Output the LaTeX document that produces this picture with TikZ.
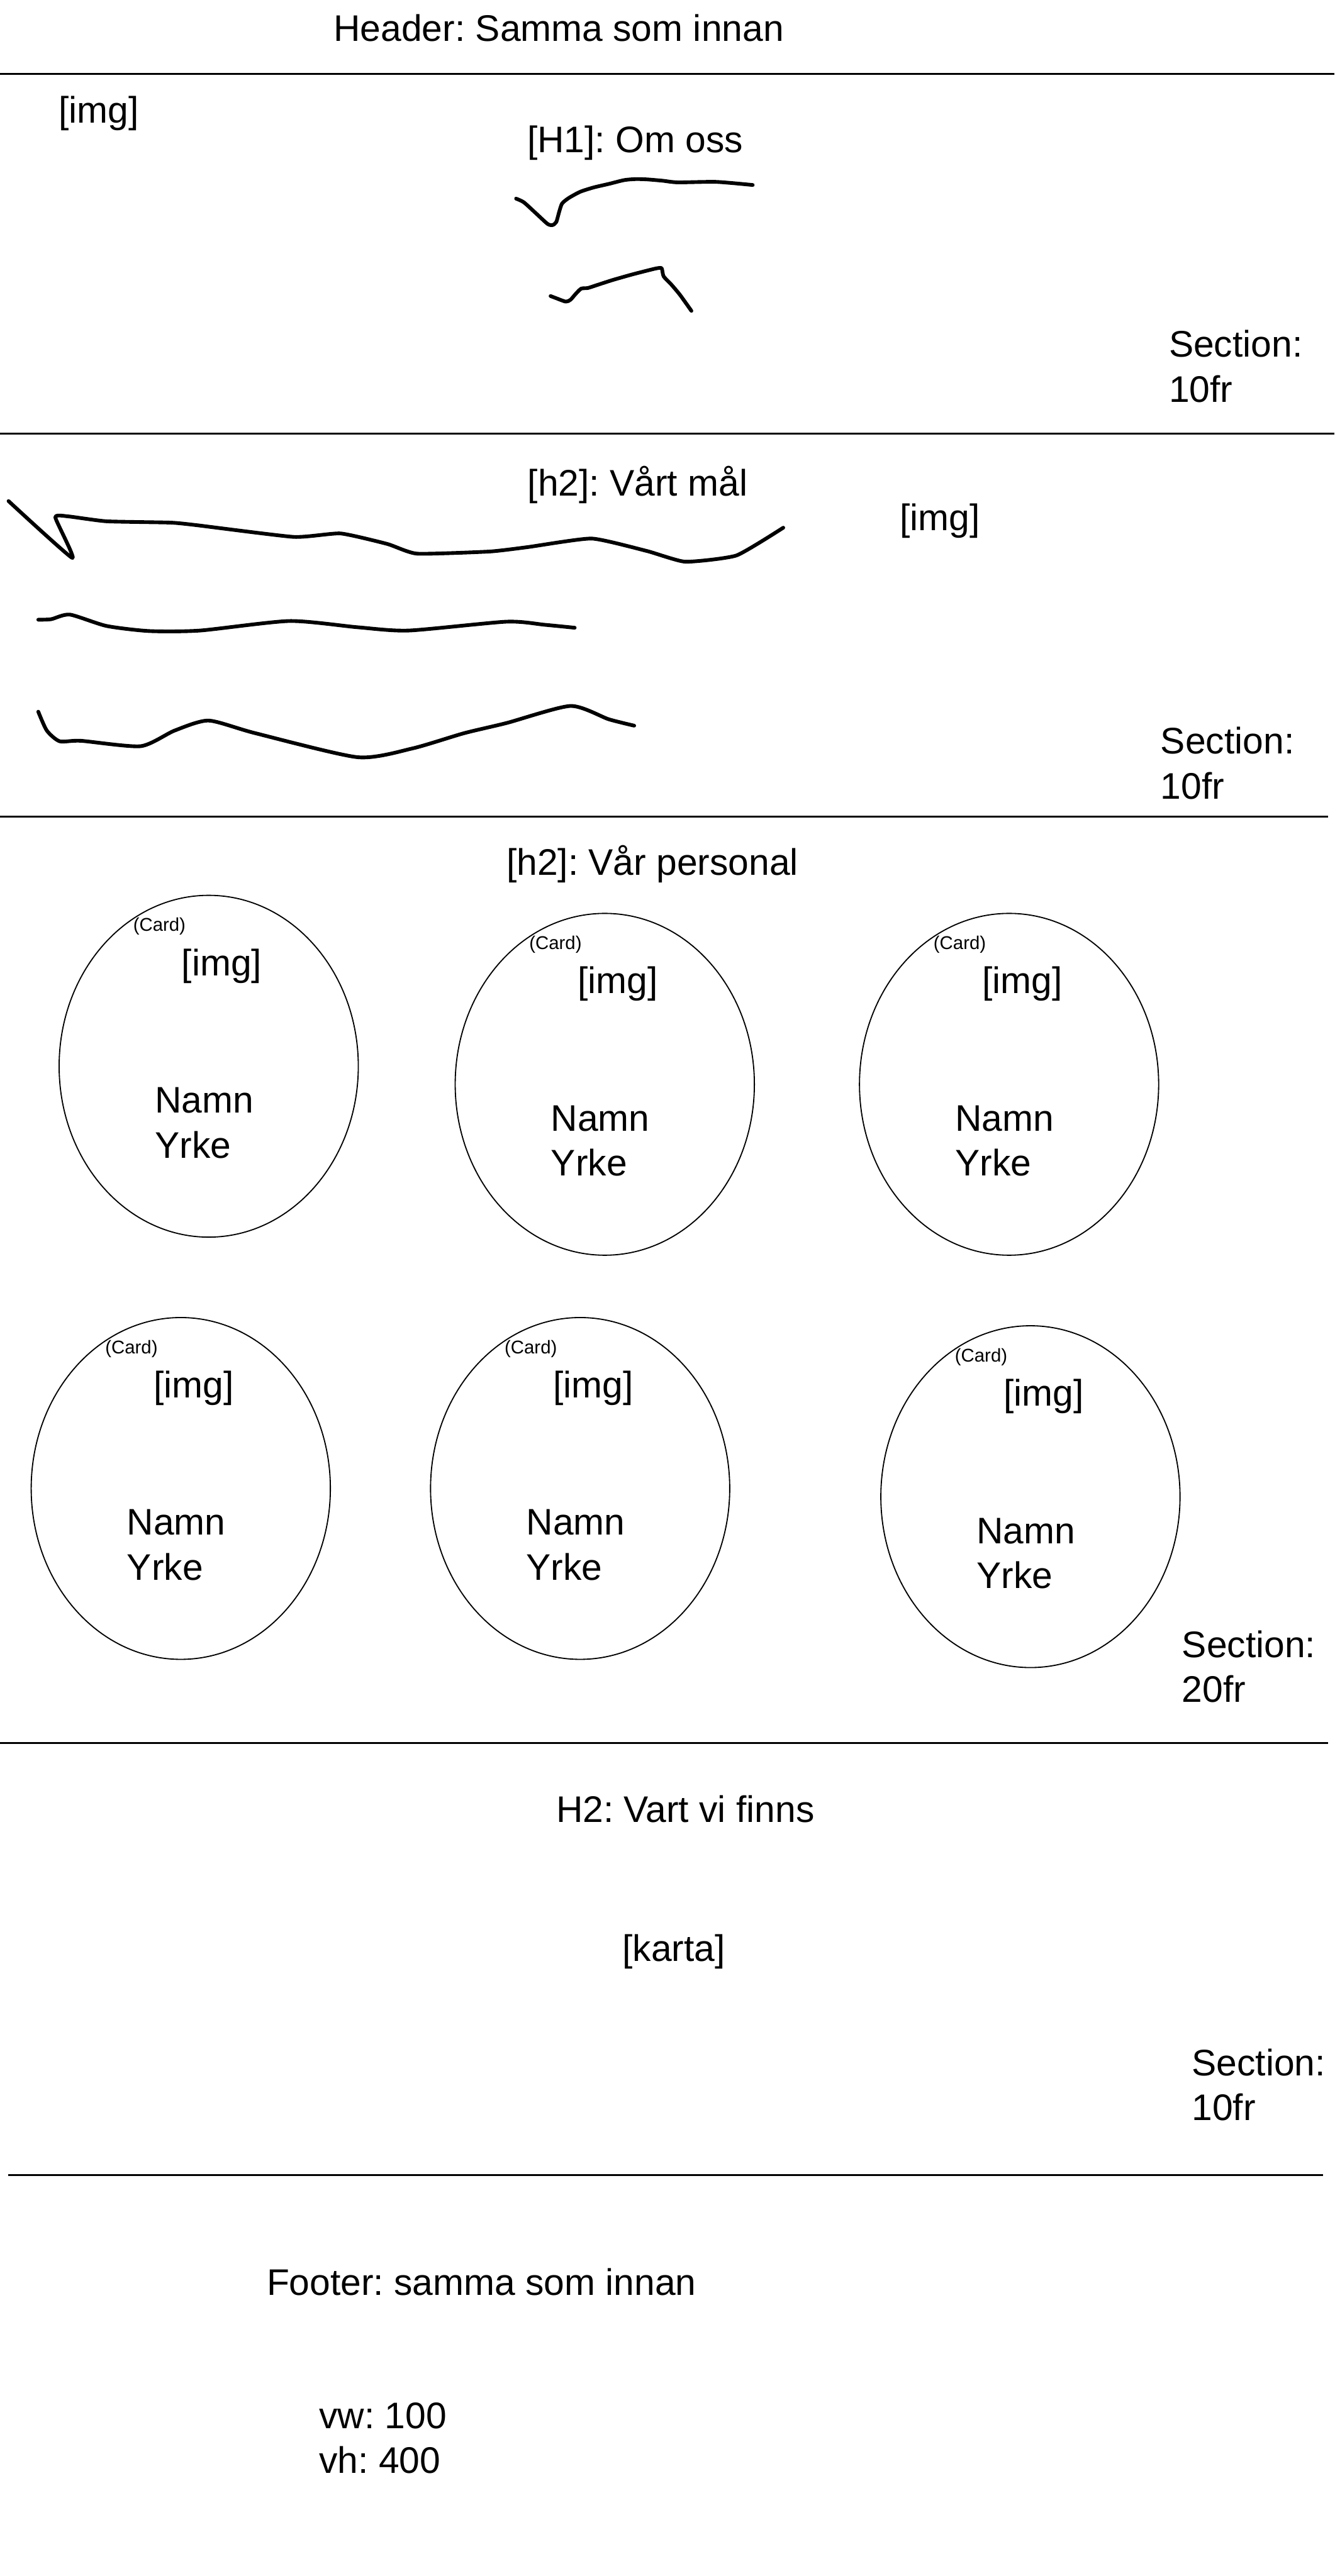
\documentclass[tikz,border=0pt]{standalone}
\usepackage{fontspec}
\setmainfont{Liberation Sans}
\frenchspacing
\usetikzlibrary{shapes.geometric,calc}
\tikzset{
  txt/.style={inner sep=0pt,font=\fontsize{16}{19.5}\selectfont},
  sectiontag/.style={txt,anchor=west,align=left},
  cardtag/.style={inner sep=0pt,font=\fontsize{8}{9}\selectfont},
  divider/.style={line width=0.9pt,draw=black},
  scrawl/.style={line width=1.6pt,line cap=round,line join=round},
  cardshape/.style={draw,ellipse,line width=0.5pt,inner sep=0pt,
                    minimum width=4.55cm,minimum height=5.2cm}
}

\begin{document}
\begin{tikzpicture}[x=0.025cm,y=-0.025cm]
    \path[use as bounding box] (0,0) rectangle (812,1568);

    % header
    \node[txt] (header) at (340,17) {Header: Samma som innan};
    \draw[divider] (0,45) -- (812,45);

    % om oss
    \node[txt] (heroimg) at (60,69) {[img]};
    \node[txt] (h1) at (386.5,87) {[H1]: Om oss};
    \draw[scrawl] plot[smooth,tension=0.4] coordinates {
      (314,120.9) (318.7,123.1) (326.2,129.9) (333.2,136.3) (336.2,137)
      (338.5,135.1) (340.2,129.1) (342,123.9) (346.1,120.5) (353.1,116.7)
      (361.2,114.1) (370.6,111.9) (379.9,109.6) (386.9,109) (393.9,109.2)
      (403.2,110) (412.5,111) (435.8,110.7) (458,112.6)};
    \draw[scrawl] plot[smooth,tension=0.4] coordinates {
      (335,180.2) (337.9,181.3) (344.3,183.6) (347.2,182.4) (350.1,179.1)
      (353.6,175.7) (357.7,175.3) (363.6,173.4) (372.9,170.4) (384.5,167.1)
      (395,164.4) (399.7,163.3) (402.6,163.3) (403.8,168.2) (408.4,173.1)
      (413.7,179.4) (420.7,189.2)};
    \node[sectiontag] (sec1) at (711,223) {Section:\\10fr};
    \draw[divider] (0,264) -- (812,264);

    % vart mal
    \node[txt] (h2goal) at (388,295) {[h2]: Vårt mål};
    \node[txt] (goalimg) at (572,317) {[img]};
    \draw[scrawl] plot[smooth,tension=0.3] coordinates {
      (5.2,305) (44,339.6) (33.7,315) (41.4,314.3) (64.8,317.3) (103.6,318.1)
      (119.1,319.6) (178.7,326.8) (207.2,324.7) (235.7,331.1) (253.8,337)
      (297.9,335.7) (321.2,333) (360,327.8) (393.7,335.4) (417,341.9)
      (448.1,338.1) (476.6,321.2)};
    \draw[scrawl] plot[smooth,tension=0.4] coordinates {
      (23.3,377.2) (31.1,376.9) (42.5,374.1) (64.8,381) (90.7,384.1)
      (121.7,383.8) (176.1,378) (217.6,381.8) (248.6,383.8) (308.2,378.4)
      (331.5,380.3) (349.7,382.1)};
    \draw[scrawl] plot[smooth,tension=0.4] coordinates {
      (23.3,433.2) (28.5,444.7) (36.3,451.2) (49.2,450.9) (85.5,454.2)
      (106.2,444.7) (126.9,438.6) (155.4,446.3) (217.6,460.9) (251.2,455.5)
      (282.3,446.3) (308.2,440.1) (347.1,429.7) (370.4,437.8) (385.9,441.7)};
    \node[sectiontag] (sec2) at (706,464.5) {Section:\\10fr};
    \draw[divider] (0,497) -- (808,497);

    % personal
    \node[txt] (h2staff) at (397,526) {[h2]: Vår personal};
    \foreach \n/\cx/\cy in {1/127/649,2/368/660,3/614/660,
                            4/110/906,5/353/906,6/627/911}{
      \node[cardshape] (card\n) at (\cx,\cy) {};
      \node[cardtag] (tag\n) at ($(card\n)+(-30,-85)$) {(Card)};
      \node[txt] (img\n) at ($(card\n)+(8,-61)$) {[img]};
      \node[sectiontag] (who\n) at ($(card\n)+(-33,34.5)$) {Namn\\Yrke};
    }
    \node[sectiontag] (sec3) at (719,1014.5) {Section:\\20fr};
    \draw[divider] (0,1061) -- (808,1061);

    % karta
    \node[txt] (h2map) at (417,1101) {H2: Vart vi finns};
    \node[txt] (map) at (410,1188) {[karta]};
    \node[sectiontag] (sec4) at (725,1269) {Section:\\10fr};
    \draw[divider] (5,1324) -- (805,1324);

    % footer
    \node[txt] (footer) at (293,1389) {Footer: samma som innan};
    \node[sectiontag] (viewport) at (194,1484) {vw: 100\\vh: 400};
\end{tikzpicture}
\end{document}
